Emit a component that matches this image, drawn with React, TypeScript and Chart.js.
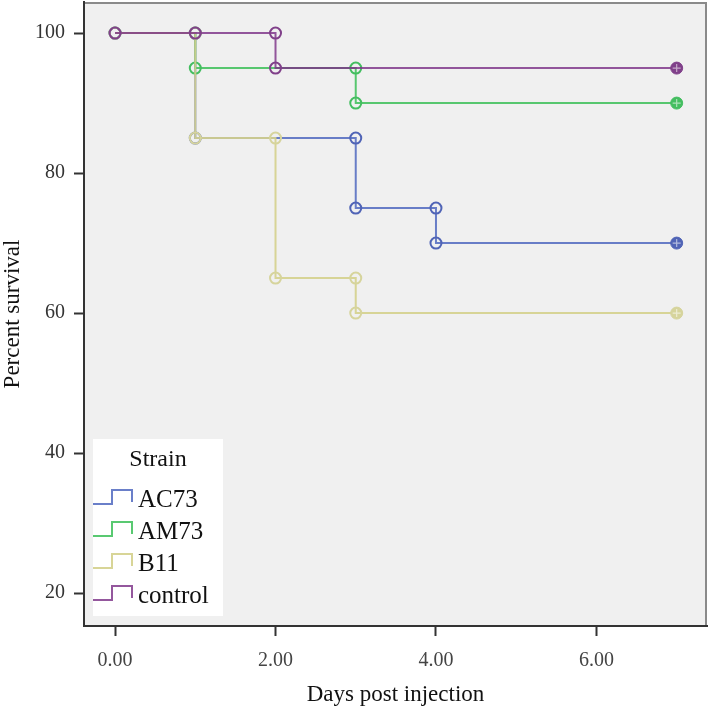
import React, { useEffect, useRef } from "react";
import { Chart, registerables } from "chart.js";

Chart.register(...registerables);

// Kaplan-Meier data: marked times and survival (%) at each mark
const seriesNames = ["AC73", "AM73", "B11", "control"];
const ac73Times = [1, 3, 4];
const ac73Surv = [85, 75, 70];
const am73Times = [1, 3];
const am73Surv = [95, 90];
const b11Times = [1, 2, 3];
const b11Surv = [85, 65, 60];
const controlTimes = [1, 2];
const controlSurv = [100, 95];
const startSurvival = 100;
const endTime = 7;

const xTickValues = [0, 2, 4, 6];
const yTickValues = [20, 40, 60, 80, 100];

const lineColors = [
  "rgba(80,104,192,0.85)",
  "rgba(60,192,88,0.85)",
  "rgba(212,208,140,0.9)",
  "rgba(125,50,135,0.82)",
];
const markColors = ["#5064b6", "#44be60", "#d6d49c", "#80408a"];

const FONT = "'Liberation Serif', 'Times New Roman', serif";

function buildSteps(times: number[], surv: number[]) {
  const pts: { x: number; y: number }[] = [{ x: 0, y: startSurvival }];
  let prev = startSurvival;
  times.forEach((t, i) => {
    pts.push({ x: t, y: prev });
    if (surv[i] !== prev) pts.push({ x: t, y: surv[i] });
    prev = surv[i];
  });
  pts.push({ x: endTime, y: prev });
  return pts;
}

const legendPlugin = {
  id: "kmLegend",
  afterDraw(chart: any) {
    const { ctx, chartArea } = chart;
    const w = 130;
    const h = 177;
    const left = chartArea.left + 9;
    const top = chartArea.bottom - 10 - h;
    ctx.save();
    ctx.fillStyle = "#ffffff";
    ctx.fillRect(left, top, w, h);
    ctx.fillStyle = "#111";
    ctx.font = `24px ${FONT}`;
    ctx.textAlign = "center";
    ctx.textBaseline = "middle";
    ctx.fillText("Strain", left + 65, top + 21);
    ctx.textAlign = "left";
    seriesNames.forEach((name, i) => {
      const cy = top + 60 + i * 32;
      ctx.strokeStyle = lineColors[i];
      ctx.lineWidth = 2;
      ctx.beginPath();
      ctx.moveTo(left + 0, cy + 5);
      ctx.lineTo(left + 19, cy + 5);
      ctx.lineTo(left + 19, cy - 9);
      ctx.lineTo(left + 39, cy - 9);
      ctx.lineTo(left + 39, cy + 3);
      ctx.stroke();
      ctx.fillStyle = "#111";
      ctx.font = `25px ${FONT}`;
      ctx.fillText(name, left + 45, cy + 1);
    });
    ctx.restore();
  },
};

const areaPlugin = {
  id: "areaBg",
  beforeDraw(chart: any) {
    const { ctx, chartArea } = chart;
    ctx.save();
    ctx.fillStyle = "#f0f0f0";
    ctx.fillRect(chartArea.left, chartArea.top, chartArea.right - chartArea.left, chartArea.bottom - chartArea.top);
    ctx.strokeStyle = "#8a8a8a";
    ctx.lineWidth = 2;
    ctx.beginPath();
    ctx.moveTo(chartArea.left, chartArea.top + 1);
    ctx.lineTo(chartArea.right - 1, chartArea.top + 1);
    ctx.lineTo(chartArea.right - 1, chartArea.bottom);
    ctx.stroke();
    ctx.restore();
  },
};

export default function App() {
  const ref = useRef<HTMLCanvasElement | null>(null);

  useEffect(() => {
    document.body.style.margin = "0";
    const all = [
      buildSteps(ac73Times, ac73Surv),
      buildSteps(am73Times, am73Surv),
      buildSteps(b11Times, b11Surv),
      buildSteps(controlTimes, controlSurv),
    ];
    const datasets: any[] = [];
    all.forEach((pts, i) => {
      const n = pts.length;
      datasets.push({
        label: seriesNames[i],
        data: pts,
        borderColor: lineColors[i],
        borderWidth: 2,
        pointStyle: "circle",
        pointRadius: (c: any) => (c.dataIndex === n - 1 ? 0 : 5.5),
        pointBorderColor: markColors[i],
        pointBorderWidth: 2,
        pointBackgroundColor: "rgba(0,0,0,0)",
        order: 10 - i,
      });
      const last = pts[n - 1];
      datasets.push({
        label: seriesNames[i] + " censored",
        data: [last],
        showLine: false,
        pointStyle: "circle",
        pointRadius: 6,
        pointBorderWidth: 1,
        pointBorderColor: markColors[i],
        pointBackgroundColor: markColors[i],
        order: 2,
      });
      datasets.push({
        label: seriesNames[i] + " censored cross",
        data: [last],
        showLine: false,
        pointStyle: "cross",
        pointRadius: 4,
        pointBorderWidth: 1.2,
        pointBorderColor: "rgba(255,255,255,0.55)",
        order: 1,
      });
    });

    const chart = new Chart(ref.current as HTMLCanvasElement, {
      type: "line",
      data: { datasets },
      plugins: [areaPlugin, legendPlugin],
      options: {
        animation: false,
        responsive: true,
        maintainAspectRatio: false,
        layout: { autoPadding: false, padding: { top: 2, right: 2, left: 0, bottom: 0 } },
        plugins: { legend: { display: false }, tooltip: { enabled: false } },
        elements: { line: { tension: 0 } },
        scales: {
          x: {
            type: "linear",
            min: -0.387,
            max: 7.378,
            afterFit: (s: any) => {
              s.height = 81;
              s.paddingLeft = 0;
              s.paddingRight = 0;
            },
            afterBuildTicks: (s: any) => {
              s.ticks = xTickValues.map((v) => ({ value: v }));
            },
            ticks: {
              callback: (v: any) => Number(v).toFixed(2),
              color: "#444",
              font: { family: FONT, size: 20 },
              padding: 13,
              maxRotation: 0,
            },
            grid: {
              drawOnChartArea: false,
              drawTicks: true,
              tickLength: 10,
              tickColor: "#333",
              tickWidth: 2,
            },
            border: { display: true, color: "#333", width: 2 },
            title: {
              display: true,
              text: "Days post injection",
              color: "#111",
              font: { family: FONT, size: 23 },
              padding: { top: 0, bottom: -2 },
            },
          },
          y: {
            type: "linear",
            min: 15.3,
            max: 104.44,
            afterFit: (s: any) => {
              s.width = 84;
              s.paddingTop = 0;
              s.paddingBottom = 0;
            },
            afterBuildTicks: (s: any) => {
              s.ticks = yTickValues.map((v) => ({ value: v }));
            },
            ticks: {
              callback: (v: any) => String(v),
              color: "#333",
              font: { family: FONT, size: 20 },
              padding: 9,
            },
            grid: {
              drawOnChartArea: false,
              drawTicks: true,
              tickLength: 10,
              tickColor: "#333",
              tickWidth: 2,
            },
            border: { display: true, color: "#333", width: 2 },
            title: {
              display: true,
              text: "Percent survival",
              color: "#111",
              font: { family: FONT, size: 23 },
              padding: { top: -1, bottom: 0 },
            },
          },
        },
      },
    });
    return () => chart.destroy();
  }, []);

  return (
    <div style={{ position: "relative", width: 709, height: 707 }}>
      <canvas ref={ref} />
    </div>
  );
}
